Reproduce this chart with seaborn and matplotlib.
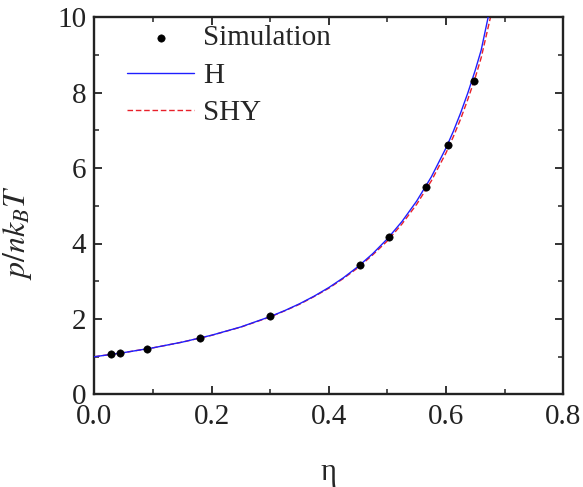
import numpy as np
import pandas as pd
import matplotlib
matplotlib.use("Agg")
import matplotlib.pyplot as plt
import seaborn as sns

# simulation points
sim_eta = [0.029, 0.044, 0.090, 0.180, 0.300, 0.453, 0.503, 0.566, 0.604, 0.647]
sim_z = [1.06, 1.09, 1.20, 1.49, 2.08, 3.42, 4.17, 5.49, 6.60, 8.30]

# H curve (blue solid)
h_eta = [0.0, 0.05, 0.10, 0.15, 0.20, 0.25, 0.30, 0.325, 0.35, 0.375, 0.40, 0.425,
         0.45, 0.475, 0.50, 0.525, 0.55, 0.575, 0.60, 0.6125, 0.625, 0.6375, 0.65,
         0.66, 0.672]
h_z = [1.000, 1.109, 1.236, 1.388, 1.570, 1.790, 2.064, 2.224, 2.403, 2.605, 2.833, 3.093,
       3.390, 3.731, 4.125, 4.585, 5.125, 5.765, 6.531, 6.97, 7.46, 8.00, 8.595,
       9.12, 10.0]

# SHY curve (red dashed)
shy_eta = [0.0, 0.05, 0.10, 0.15, 0.20, 0.25, 0.30, 0.325, 0.35, 0.375, 0.40, 0.425,
           0.45, 0.475, 0.50, 0.525, 0.55, 0.575, 0.60, 0.6125, 0.625, 0.6375, 0.65,
           0.66, 0.676]
shy_z = [1.000, 1.109, 1.236, 1.387, 1.567, 1.785, 2.055, 2.218, 2.390, 2.595, 2.815, 3.075,
         3.360, 3.700, 4.070, 4.520, 5.040, 5.660, 6.400, 6.83, 7.30, 7.83, 8.40,
         8.92, 10.0]

sns.set_theme(style="ticks")
plt.rcParams.update({
    "font.family": "serif",
    "font.serif": ["Liberation Serif", "DejaVu Serif"],
    "mathtext.fontset": "stix",
    "font.size": 20,
    "axes.linewidth": 1.7,
    "xtick.direction": "in",
    "ytick.direction": "in",
    "xtick.top": True,
    "ytick.right": True,
    "xtick.major.size": 6,
    "ytick.major.size": 6,
    "xtick.minor.size": 3.5,
    "ytick.minor.size": 3.5,
    "xtick.major.width": 1.3,
    "ytick.major.width": 1.3,
    "xtick.minor.width": 1.1,
    "ytick.minor.width": 1.1,
    "axes.edgecolor": "#222222",
    "xtick.color": "#222222",
    "ytick.color": "#222222",
})

fig = plt.figure(figsize=(5.83, 4.87), dpi=100)
ax = fig.add_axes([0.162, 0.190, 0.804, 0.775])

sim_df = pd.DataFrame({"eta": sim_eta, "z": sim_z})
h_df = pd.DataFrame({"eta": h_eta, "z": h_z})
shy_df = pd.DataFrame({"eta": shy_eta, "z": shy_z})

sns.lineplot(data=shy_df, x="eta", y="z", ax=ax, color="#e8202a", lw=1.0,
             linestyle=(0, (4, 2)), label="SHY", zorder=2)
sns.lineplot(data=h_df, x="eta", y="z", ax=ax, color="#1f1fff", lw=1.0,
             label="H", zorder=3)
sns.scatterplot(data=sim_df, x="eta", y="z", ax=ax, color="black", s=28,
                edgecolor="black", label="Simulation", zorder=4)

ax.set_xlim(0, 0.8)
ax.set_ylim(0, 10)
ax.set_xticks(np.arange(0, 0.81, 0.2))
ax.set_xticklabels(["0.0", "0.2", "0.4", "0.6", "0.8"])
ax.set_yticks(np.arange(0, 11, 2))
ax.set_xticks(np.arange(0.1, 0.8, 0.2), minor=True)
ax.set_yticks(np.arange(1, 10, 2), minor=True)
ax.tick_params(labelsize=21)
ax.tick_params(axis="x", pad=7)
ax.tick_params(axis="y", pad=6)

ax.set_xlabel("η", fontsize=22, labelpad=20)
ax.set_ylabel(r"$p/nk_BT$", fontsize=23)
ax.yaxis.set_label_coords(-0.13, 0.43)

handles, labels = ax.get_legend_handles_labels()
order = [labels.index("Simulation"), labels.index("H"), labels.index("SHY")]
ax.legend([handles[i] for i in order], [labels[i] for i in order],
          loc="upper left", bbox_to_anchor=(0.045, 1.01), frameon=False,
          fontsize=21, handlelength=2.3, handletextpad=0.3, labelspacing=0.38,
          borderaxespad=0)

fig.savefig("out.png", dpi=100)
